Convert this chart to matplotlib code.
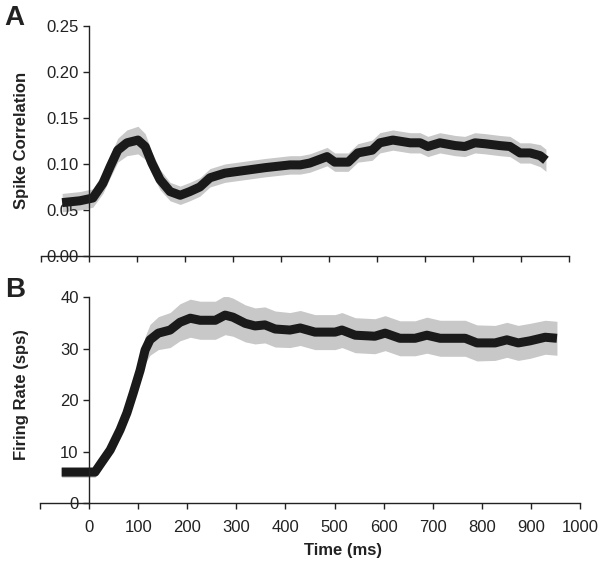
import matplotlib
matplotlib.use('Agg')
import matplotlib.pyplot as plt
import numpy as np

plt.rcParams['font.family'] = ['Liberation Sans', 'DejaVu Sans']

# panel A: spike correlation
t_corr = [-56, -19, 8, 29, 44, 60, 79, 102, 117, 131, 148, 169, 190, 210, 231, 252, 283, 325, 367,
          419, 440, 460, 496, 512, 540, 560, 590, 606, 633, 669, 690, 706, 731, 763, 783, 804, 825,
          856, 877, 898, 919, 940, 952]
corr = [0.058, 0.060, 0.063, 0.079, 0.097, 0.115, 0.123, 0.126, 0.119, 0.101, 0.083, 0.070, 0.066,
        0.070, 0.075, 0.085, 0.090, 0.093, 0.096, 0.099, 0.099, 0.101, 0.108, 0.102, 0.102, 0.112,
        0.115, 0.123, 0.126, 0.123, 0.123, 0.119, 0.123, 0.120, 0.119, 0.123, 0.122, 0.120, 0.119,
        0.112, 0.112, 0.109, 0.104]
corr_err = [0.010, 0.010, 0.010, 0.011, 0.012, 0.013, 0.014, 0.015, 0.014, 0.012, 0.011, 0.010, 0.010,
            0.010, 0.010, 0.010, 0.010, 0.010, 0.010, 0.010, 0.010, 0.010, 0.010, 0.010, 0.010, 0.010,
            0.011, 0.011, 0.011, 0.011, 0.011, 0.011, 0.011, 0.011, 0.011, 0.011, 0.011, 0.011, 0.011,
            0.011, 0.011, 0.012, 0.012]

# panel B: firing rate
t_rate = [-56, 12, 22, 43, 63, 77, 90, 104, 114, 124, 141, 165, 185, 206, 226, 257, 277, 293, 318,
          338, 358, 379, 409, 430, 460, 501, 515, 542, 582, 603, 633, 664, 688, 715, 766, 790, 827,
          851, 874, 898, 929, 953]
rate = [6.0, 6.0, 7.4, 10.3, 14.2, 17.5, 21.4, 25.8, 29.7, 31.7, 33.0, 33.6, 35.1, 35.9, 35.5, 35.5,
        36.5, 36.1, 34.9, 34.4, 34.6, 33.8, 33.6, 34.0, 33.2, 33.2, 33.6, 32.6, 32.4, 33.0, 32.0, 32.0,
        32.6, 32.0, 32.0, 31.1, 31.1, 31.7, 31.1, 31.5, 32.2, 32.0]
rate_err = [1.0, 1.0, 1.0, 1.2, 1.4, 1.6, 1.8, 2.2, 2.6, 3.0, 3.2, 3.4, 3.6, 3.7, 3.7, 3.7, 3.8, 3.7,
            3.6, 3.5, 3.5, 3.5, 3.4, 3.4, 3.4, 3.4, 3.4, 3.4, 3.4, 3.4, 3.4, 3.4, 3.5, 3.5, 3.5, 3.5,
            3.4, 3.4, 3.4, 3.4, 3.3, 3.3]

x_ticks = list(range(-100, 1001, 100))
x_labels = [''] + [str(v) for v in range(0, 1001, 100)]
ink = '#222222'

fig = plt.figure(figsize=(6, 5.61), dpi=100)
ax1 = fig.add_axes([0.0683, 0.5437, 0.88, 0.41])
ax2 = fig.add_axes([0.0667, 0.1034, 0.90, 0.367])


def style(ax):
    ax.spines['top'].set_visible(False)
    ax.spines['right'].set_visible(False)
    ax.spines['left'].set_position(('data', 0))
    for s in ('left', 'bottom'):
        ax.spines[s].set_color(ink)
        ax.spines[s].set_linewidth(1.0)
    ax.tick_params(direction='out', length=4, width=1.0, colors=ink,
                   labelsize=12, labelcolor=ink)
    ax.set_xlim(-100, 1000)
    ax.set_xticks(x_ticks)


for ax, t, y, e in ((ax1, t_corr, corr, corr_err), (ax2, t_rate, rate, rate_err)):
    t = np.array(t)
    y = np.array(y)
    e = np.array(e)
    ax.fill_between(t, y - e, y + e, color='#c8c8c8', linewidth=0)
    ax.plot(t, y, color='#1a1a1a', linewidth=6.5, solid_capstyle='butt')
    style(ax)

ax1.set_ylim(0, 0.25)
ax1.set_yticks([0, 0.05, 0.10, 0.15, 0.20, 0.25])
ax1.set_yticklabels(['0.00', '0.05', '0.10', '0.15', '0.20', '0.25'])
ax1.set_xticklabels([])

ax2.set_ylim(0, 40)
ax2.set_yticks([0, 10, 20, 30, 40])
ax2.set_xticklabels(x_labels)
ax2.tick_params(axis='x', pad=8)

# axis titles at fixed figure positions
fig.text(22 / 600, 1 - 140 / 561, 'Spike Correlation', rotation=90, fontsize=12,
         fontweight='bold', color=ink, ha='center', va='center')
fig.text(22 / 600, 1 - 395 / 561, 'Firing Rate (sps)', rotation=90, fontsize=12,
         fontweight='bold', color=ink, ha='center', va='center')
fig.text(343 / 600, 1 - 550 / 561, 'Time (ms)', fontsize=12, fontweight='bold',
         color=ink, ha='center', va='center')

fig.text(0.008, 1 - 18 / 561, 'A', fontsize=20, fontweight='bold', va='center', color=ink)
fig.text(0.008, 1 - 290 / 561, 'B', fontsize=20, fontweight='bold', va='center', color=ink)

fig.savefig('out.png', dpi=100)
plt.close(fig)
